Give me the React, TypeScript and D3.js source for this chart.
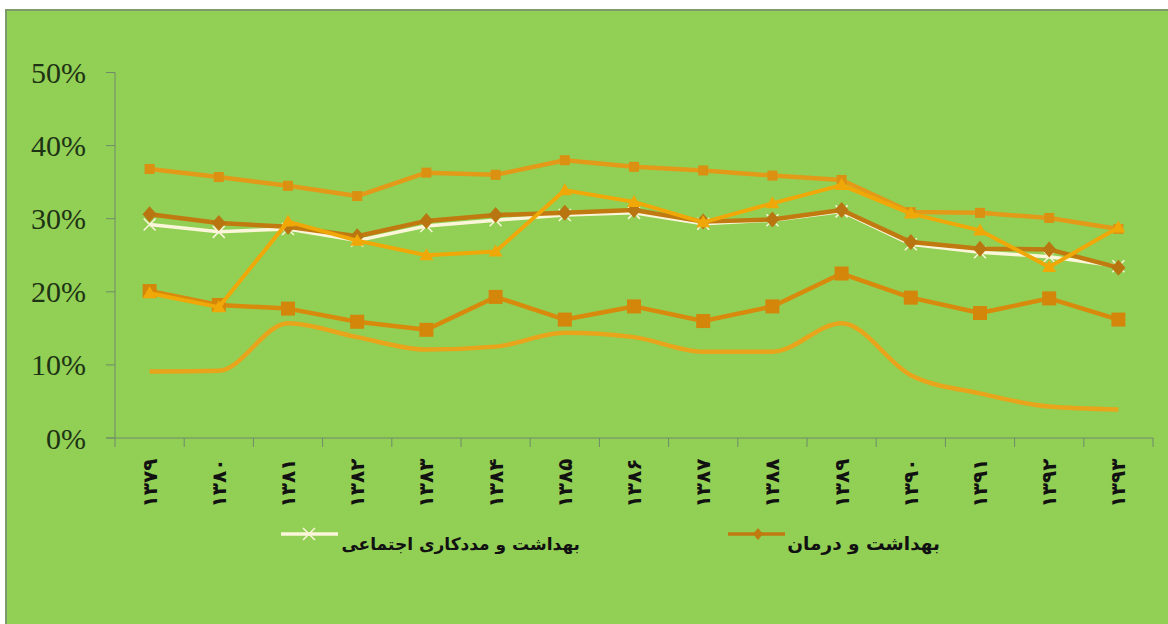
import React, { useEffect, useRef } from "react";
import * as d3 from "d3";

const years = ["۱۳۷۹", "۱۳۸۰", "۱۳۸۱", "۱۳۸۲", "۱۳۸۳", "۱۳۸۴", "۱۳۸۵", "۱۳۸۶", "۱۳۸۷", "۱۳۸۸", "۱۳۸۹", "۱۳۹۰", "۱۳۹۱", "۱۳۹۲", "۱۳۹۳"];
const yTicks = [0, 0.1, 0.2, 0.3, 0.4, 0.5];

const seriesTop = [36.8, 35.7, 34.5, 33.1, 36.3, 36.0, 38.0, 37.1, 36.6, 35.9, 35.3, 30.9, 30.8, 30.1, 28.6];
const seriesHealthTreatment = [30.6, 29.4, 28.9, 27.6, 29.7, 30.5, 30.8, 31.2, 29.6, 29.9, 31.2, 26.8, 25.9, 25.8, 23.3];
const seriesHealthSocial = [29.2, 28.2, 28.6, 27.0, 29.0, 29.8, 30.5, 30.8, 29.3, 29.8, 31.0, 26.5, 25.4, 24.8, 23.5];
const seriesYellow = [19.8, 17.9, 29.6, 27.0, 25.0, 25.5, 33.9, 32.3, 29.5, 32.1, 34.6, 30.7, 28.4, 23.4, 28.8];
const seriesSquares = [20.1, 18.2, 17.7, 15.9, 14.8, 19.3, 16.2, 18.0, 16.0, 18.0, 22.5, 19.2, 17.1, 19.1, 16.2];
const seriesSmooth = [9.1, 9.2, 15.7, 13.8, 12.1, 12.5, 14.4, 13.8, 11.8, 11.8, 15.7, 8.6, 6.1, 4.3, 3.9];

const legendSocial = "بهداشت و مددکاری اجتماعی";
const legendTreatment = "بهداشت و درمان";

export default function App() {
  const ref = useRef<SVGSVGElement>(null);

  useEffect(() => {
    const svg = d3.select(ref.current);
    svg.selectAll("*").remove();
    const W = 1168, H = 624;
    svg.attr("width", W).attr("height", H);

    svg.append("rect").attr("x", 0).attr("y", 0).attr("width", W).attr("height", H).attr("fill", "#ffffff");
    svg.append("rect").attr("x", 6).attr("y", 10).attr("width", W).attr("height", H)
      .attr("fill", "#92CF55").attr("stroke", "#7f9a6a").attr("stroke-width", 2);

    const x0 = 115, x1 = 1153, yTop = 72.5, yBot = 438;
    const x = d3.scaleBand<string>().domain(years).range([x0, x1]);
    const y = d3.scaleLinear().domain([0, 0.5]).range([yBot, yTop]);
    const cx = (i: number) => (x(years[i]) as number) + x.bandwidth() / 2;

    const axisColor = "#6f8a6a";
    // y axis
    svg.append("line").attr("x1", x0).attr("x2", x0).attr("y1", yTop).attr("y2", yBot).attr("stroke", axisColor).attr("stroke-width", 1);
    yTicks.forEach((t) => {
      svg.append("line").attr("x1", x0 - 9).attr("x2", x0).attr("y1", y(t)).attr("y2", y(t)).attr("stroke", axisColor);
      svg.append("text").attr("x", 86).attr("y", y(t)).attr("dy", "0.35em").attr("text-anchor", "end")
        .attr("font-family", "Liberation Serif, serif").attr("font-size", 30).attr("fill", "#1d3314")
        .text(d3.format(".0%")(t));
    });
    // x axis
    svg.append("line").attr("x1", x0 - 9).attr("x2", x1).attr("y1", yBot).attr("y2", yBot).attr("stroke", axisColor);
    years.forEach((yr, i) => {
      const xt = x(yr) as number;
      svg.append("line").attr("x1", xt).attr("x2", xt).attr("y1", yBot).attr("y2", yBot + 9).attr("stroke", axisColor);
      if (i === years.length - 1) {
        svg.append("line").attr("x1", x1).attr("x2", x1).attr("y1", yBot).attr("y2", yBot + 9).attr("stroke", axisColor);
      }
      svg.append("text")
        .attr("transform", `translate(${cx(i)},${483}) rotate(-90)`)
        .attr("text-anchor", "middle").attr("dy", "0.35em")
        .attr("font-family", "DejaVu Sans, sans-serif").attr("font-weight", "bold").attr("font-size", 20)
        .attr("fill", "#111").text(yr);
    });

    const line = d3.line<number>().x((_, i) => cx(i)).y((v) => y(v / 100));
    const smooth = d3.line<number>().x((_, i) => cx(i)).y((v) => y(v / 100)).curve(d3.curveMonotoneX);

    const g = svg.append("g");
    const drawLine = (data: number[], color: string, w: number, curve = false) =>
      g.append("path").attr("d", (curve ? smooth : line)(data)).attr("fill", "none")
        .attr("stroke", color).attr("stroke-width", w).attr("stroke-linejoin", "round");

    // smooth no-marker series
    drawLine(seriesSmooth, "#E8A41A", 4.5, true);
    // big squares series
    drawLine(seriesSquares, "#D88A0C", 4.5);
    seriesSquares.forEach((v, i) => {
      g.append("rect").attr("x", cx(i) - 7).attr("y", y(v / 100) - 7).attr("width", 14).attr("height", 14).attr("fill", "#D4860A");
    });
    // top series
    drawLine(seriesTop, "#E29A18", 4.5);
    seriesTop.forEach((v, i) => {
      g.append("rect").attr("x", cx(i) - 5).attr("y", y(v / 100) - 5).attr("width", 10).attr("height", 10).attr("fill", "#DB9012");
    });
    // white social series
    drawLine(seriesHealthSocial, "#FBF6DA", 3.5);
    seriesHealthSocial.forEach((v, i) => {
      const px = cx(i), py = y(v / 100);
      g.append("path").attr("d", `M${px - 6},${py - 6}L${px + 6},${py + 6}M${px - 6},${py + 6}L${px + 6},${py - 6}`)
        .attr("stroke", "#FBF6DA").attr("stroke-width", 1.5);
    });
    // treatment diamond series
    drawLine(seriesHealthTreatment, "#C07A10", 4.5);
    seriesHealthTreatment.forEach((v, i) => {
      const px = cx(i), py = y(v / 100);
      g.append("path").attr("d", `M${px},${py - 8}L${px + 7},${py}L${px},${py + 8}L${px - 7},${py}Z`).attr("fill", "#B87510");
    });
    // yellow series
    drawLine(seriesYellow, "#F0A808", 4);
    seriesYellow.forEach((v, i) => {
      const px = cx(i), py = y(v / 100);
      g.append("path").attr("d", `M${px},${py - 7}L${px + 7},${py + 5}L${px - 7},${py + 5}Z`).attr("fill", "#F0A808");
    });

    // legend
    const ly = 534;
    svg.append("line").attr("x1", 281).attr("x2", 338).attr("y1", ly).attr("y2", ly).attr("stroke", "#FBF6DA").attr("stroke-width", 3.5);
    svg.append("path").attr("d", `M${303},${ly - 6}L${315},${ly + 6}M${303},${ly + 6}L${315},${ly - 6}`).attr("stroke", "#FBF6DA").attr("stroke-width", 1.5);
    svg.append("text").attr("x", 580).attr("y", 550).attr("text-anchor", "end")
      .attr("font-family", "DejaVu Sans, sans-serif").attr("font-weight", "bold").attr("font-size", 17).attr("fill", "#111")
      .text(legendSocial);

    svg.append("line").attr("x1", 728).attr("x2", 785).attr("y1", ly).attr("y2", ly).attr("stroke", "#C07A10").attr("stroke-width", 3.5);
    svg.append("path").attr("d", `M${758},${ly - 6}L${763},${ly}L${758},${ly + 6}L${753},${ly}Z`).attr("fill", "#C07A10");
    svg.append("text").attr("x", 940).attr("y", 550).attr("text-anchor", "end")
      .attr("font-family", "DejaVu Sans, sans-serif").attr("font-weight", "bold").attr("font-size", 18.5).attr("fill", "#111")
      .text(legendTreatment);
  }, []);

  return (
    <div style={{ position: "absolute", left: 0, top: 0 }}>
      <svg ref={ref} />
    </div>
  );
}
